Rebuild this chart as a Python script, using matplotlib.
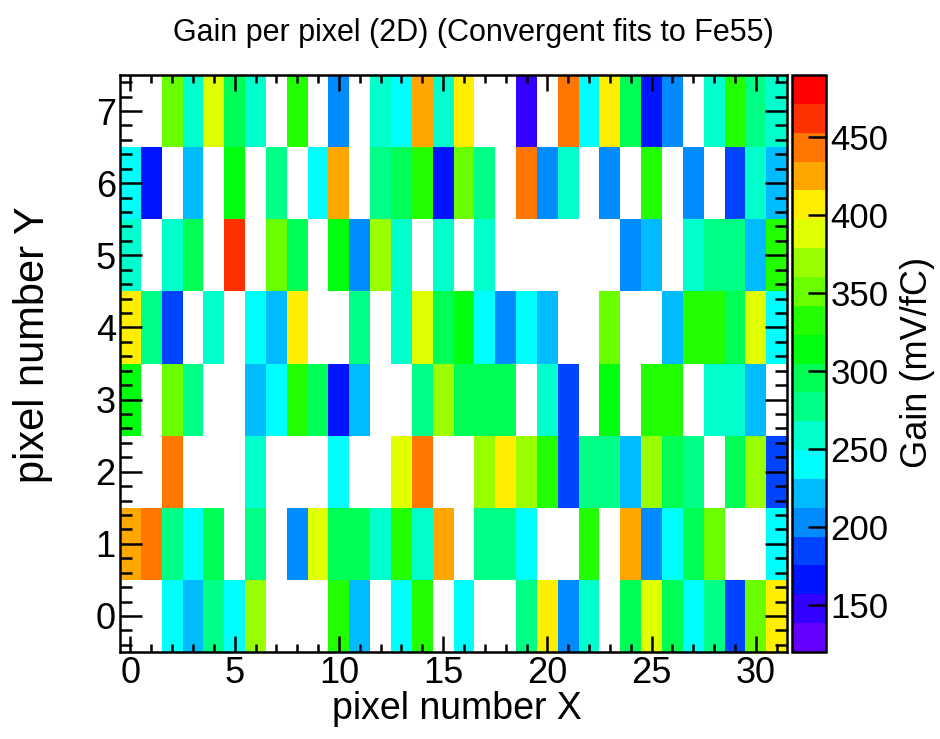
import colorsys
import numpy as np
import matplotlib
matplotlib.use('Agg')
from matplotlib import pyplot as plt
from matplotlib.colors import ListedColormap, BoundaryNorm

# gain per pixel (mV/fC), rows listed from Y=7 down to Y=0, nan = no convergent fit
nan = np.nan
gain_y7 = [nan, nan, 350, 258, 387, 295, 258, nan, 331, nan, 202, nan, 258, 239, 424, 258,
           405, nan, nan, 147, nan, 442, 239, 405, 295, 166, 202, nan, 258, 331, 276, 258]
gain_y6 = [239, 166, nan, 221, nan, 313, nan, 276, nan, 239, 424, nan, 276, 295, 331, 166,
           350, 276, nan, 442, 202, 258, nan, 202, nan, 331, nan, 202, nan, 184, 258, 221]
gain_y5 = [258, nan, 258, 295, nan, 460, nan, 350, 295, nan, 313, 202, 368, 258, nan, 258,
           nan, 258, nan, nan, nan, nan, nan, nan, 202, 221, nan, 258, 276, 276, 221, 331]
gain_y4 = [405, 276, 184, nan, 258, nan, 239, 221, 405, nan, nan, 276, nan, 258, 387, 295,
           313, 239, 202, 239, 221, nan, nan, 350, nan, nan, 221, 331, 331, 295, 387, 239]
gain_y3 = [313, nan, 350, 276, nan, nan, 221, 239, 331, 295, 166, 221, nan, nan, 276, 368,
           295, 295, 295, nan, 258, 184, nan, 313, nan, 331, 331, nan, 258, 258, 221, nan]
gain_y2 = [nan, nan, 442, nan, nan, nan, 258, nan, nan, nan, 239, nan, nan, 387, 442, nan,
           nan, 368, 405, 368, 331, 184, 276, 276, 221, 368, 295, 276, nan, 295, 368, 184]
gain_y1 = [424, 442, 276, 239, 295, nan, 276, nan, 202, 387, 295, 295, 258, 331, 258, 424,
           nan, 276, 276, 239, nan, nan, 331, nan, 424, 202, 239, 295, 350, nan, nan, 239]
gain_y0 = [nan, nan, 239, 221, 276, 239, 368, nan, nan, nan, 331, 221, nan, 239, 331, nan,
           239, nan, nan, 276, 405, 202, 258, nan, 295, 387, 295, 239, 276, 184, 350, 405]

pixel_x = np.arange(32)
pixel_y = np.arange(8)
z_min, z_max = 120, 490
n_contours = 20
z_ticks = [150, 200, 250, 300, 350, 400, 450]

title = 'Gain per pixel (2D) (Convergent fits to Fe55)'
x_title = 'pixel number X'
y_title = 'pixel number Y'
z_title = 'Gain (mV/fC)'

# old "pretty" palette : 50 hues from violet to red, picked for each contour
def pretty_palette(ncont):
    pal = []
    for i in range(50):
        hue = 280 - (i + 1) * (280 / 50)
        pal.append(colorsys.hls_to_rgb(hue / 360, 0.5, 1.0))
    return [pal[int((j + 0.99) * 50 / ncont)] for j in range(ncont)]

gain = np.array([gain_y0, gain_y1, gain_y2, gain_y3, gain_y4, gain_y5, gain_y6, gain_y7])
gain = np.ma.masked_invalid(gain)

cmap = ListedColormap(pretty_palette(n_contours))
levels = np.linspace(z_min, z_max, n_contours + 1)
norm = BoundaryNorm(levels, cmap.N)

plt.rcParams['font.family'] = ['Liberation Sans', 'DejaVu Sans']

fig = plt.figure(figsize=(9.4, 7.39), dpi=100)
ax = fig.add_axes([0.1277, 0.1177, 0.7096, 0.7808])
cax = fig.add_axes([0.8426, 0.1177, 0.0362, 0.7808])

x_edges = np.append(pixel_x - 0.5, pixel_x[-1] + 0.5)
y_edges = np.append(pixel_y - 0.5, pixel_y[-1] + 0.5)
mesh = ax.pcolormesh(x_edges, y_edges, gain, cmap=cmap, norm=norm)

ax.set_xlim(-0.5, 31.5)
ax.set_ylim(-0.5, 7.5)
ax.set_xticks([0, 5, 10, 15, 20, 25, 30])
ax.set_xticks(pixel_x, minor=True)
ax.set_yticks(pixel_y)
ax.set_yticks(np.arange(-0.4, 7.5, 0.2), minor=True)
ax.tick_params(which='both', direction='in', top=True, right=True, width=1.8,
               labelsize=26, colors='black')
ax.tick_params(axis='x', which='major', length=11.5, pad=3)
ax.tick_params(axis='x', which='minor', length=5.8)
ax.tick_params(axis='y', which='major', length=16, pad=3)
ax.tick_params(axis='y', which='minor', length=8.6)
for s in ax.spines.values():
    s.set_linewidth(1.8)

cb = fig.colorbar(mesh, cax=cax, ticks=z_ticks)
cb.outline.set_linewidth(1.8)
cax.tick_params(direction='in', length=13, width=1.8, labelsize=25, pad=3)
cax.minorticks_off()

fig.text(0.504, 0.955, title, ha='center', va='center', fontsize=22)
fig.text(0.486, 0.04, x_title, ha='center', va='center', fontsize=27)
fig.text(0.035, 0.533, y_title, ha='center', va='center', rotation=90, fontsize=30)
fig.text(0.976, 0.51, z_title, ha='center', va='center', rotation=90, fontsize=26)

fig.savefig('out.png', dpi=100)
